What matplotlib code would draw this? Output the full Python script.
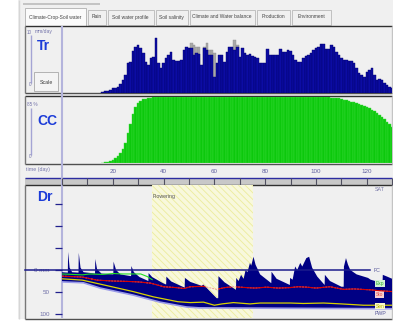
import numpy as np
import matplotlib.pyplot as plt
from matplotlib.patches import Rectangle

plt.rcParams['font.family'] = ['Liberation Sans', 'DejaVu Sans']
plt.rcParams['hatch.linewidth'] = 0.6

W, H = 393, 321

# ---- data ----
# transpiration Tr (mm/day), one bar per day
tr_days = list(range(16, 131))
tr_vals = [0.1, 0.2, 0.3, 0.4, 0.7, 0.75, 0.9, 1.4, 2.0, 2.8,
           4.7, 4.9, 6.6, 7.3, 7.6, 7.1, 6.3, 4.9, 4.4, 5.5,
           5.7, 8.7, 4.7, 3.9, 4.7, 5.5, 6.0, 6.5, 5.2, 5.0,
           5.0, 5.2, 6.8, 7.3, 7.1,
           7.1, 6.0, 6.3, 6.1, 4.4, 7.1, 6.8, 6.0, 6.0, 2.5,
           4.7, 6.0, 6.0, 4.9, 6.5, 7.3, 7.3, 6.8, 7.3, 5.7,
           7.1, 6.3, 6.0, 6.1, 5.8, 5.7, 5.5, 4.7, 4.7, 4.7,
           6.9, 6.0, 6.0, 6.0, 6.0, 6.9, 6.5, 6.5, 6.8, 6.6,
           6.0, 5.2, 4.9, 4.9, 5.5, 5.8, 6.0, 6.3, 6.8, 7.1,
           7.3, 7.7, 7.7, 6.9, 6.9, 7.6, 7.3, 6.5, 6.0, 5.5,
           5.2, 5.2, 5.0, 5.0, 4.7, 3.9, 3.1, 2.8, 2.5, 3.3,
           3.6, 3.9, 2.8, 2.0, 2.2, 2.0, 1.5, 1.2, 0.9, 0.7]
# potential Tr where it shows above the actual bar (grey)
pot_days = [51, 52, 53, 54, 56, 57, 58, 59, 60, 68, 69]
pot_vals = [7.9, 7.6, 7.3, 7.3, 7.3, 7.9, 6.8, 6.8, 6.3, 8.4, 7.6]

# canopy cover CC (%)
cc_days = list(range(16, 131))
cc_vals = [0.2, 0.6, 1.2, 2.2, 3.5, 5.5, 8.5, 12.5, 18, 26,
           38, 50, 63, 72, 77, 80, 82, 83, 83.6, 84,
           84.5, 84.5, 84.5, 84.5, 84.5, 84.5, 84.5, 84.5, 84.5, 84.5,
           84.5, 84.5, 84.5, 84.5, 84.5, 84.5, 84.5, 84.5, 84.5, 84.5,
           84.5, 84.5, 84.5, 84.5, 84.5, 84.5, 84.5, 84.5, 84.5, 84.5,
           84.5, 84.5, 84.5, 84.5, 84.5, 84.5, 84.5, 84.5, 84.5, 84.5,
           84.5, 84.5, 84.5, 84.5, 84.5, 84.5, 84.5, 84.5, 84.5, 84.5,
           84.5, 84.5, 84.5, 84.5, 84.5, 84.5, 84.5, 84.5, 84.5, 84.5,
           84.5, 84.5, 84.5, 84.5, 84.5, 84.5, 84.5, 84.5, 84.5, 84.5,
           84.3, 84.1, 83.8, 83.3, 82.6, 81.6, 80.5, 79.8, 79.1, 78.3,
           77.6, 76.5, 75.2, 73.9, 72.5, 70.6, 68.5, 66.4, 64.2, 61.5,
           58.8, 55.9, 53.0, 49.8, 46.5]

# root zone depletion Dr (mm below FC, negative = above FC)
dr_days = [0, 2.3, 2.4, 3.0, 4.0, 6.5, 6.6, 7.3, 8.5, 13.0, 13.1, 13.8, 15.5,
           20.2, 20.3, 21.3, 23.0, 27.2, 27.3, 28.3, 30.5, 34.0, 34.1, 35.5,
           39.8, 41.0, 41.1, 43.0, 47.5, 48.3, 48.4, 50.5, 54.0, 55.0, 55.6,
           56.5, 60.9, 61.5, 61.6, 64.0, 68.5, 68.6, 69.5, 70.5, 71.5, 72.3,
           73.0, 74.0, 74.5, 75.4, 76.2, 78.0, 82.4, 82.5, 84.5, 89.7, 89.8,
           90.8, 91.8, 92.6, 93.8, 94.6, 96.2, 97.3, 98.5, 100.5, 103.4, 103.5,
           105.5, 110.0, 110.9, 111.0, 111.8, 112.6, 113.5, 116.0, 120.5,
           121.5, 126.2, 126.3, 128.0, 130.0]
dr_vals = [5, 6, -41, -5, 5, 6, -39, -5, 5, 8, -25, -2, 8,
           10, -19, 0, 10, 14, -9, 5, 16, 25, 7, 16,
           30, 33, 15, 26, 38, 40, 18, 27, 34, 36, 33,
           38, 64, 64, 14, 28, 45, 18, 25, 11, 20, 0,
           5, -16, -10, -30, -12, 10, 30, 4, 20, 34, 18,
           22, -8, 0, -16, -8, -27, -30, -5, 15, 34, 11,
           25, 38, 38, -8, -27, -12, 0, 10, 18,
           22, 30, 11, 15, 20]
# lower limit of the root zone store (PWP)
pwp_days = [0, 8.4, 15, 28, 38.6, 49, 54, 90, 130]
pwp_vals = [27, 29, 41, 57, 73, 84, 86, 87, 88]
# thresholds
exp_days = [0, 4, 8, 11, 16, 20, 24, 28, 31, 33.6, 35.5]
exp_vals = [9, 10, 11, 9, 10, 8, 9, 9, 9, 15, 22]
sto_days = [0, 8, 13.8, 20, 26, 30, 35, 40, 45, 48, 50.5, 55.7, 60.9, 64,
            67.5, 72.7, 76, 80.6, 85, 89.8, 93, 96.4, 100, 105.5, 110.8,
            115, 121.3, 125, 130]
sto_vals = [14, 16, 23, 25, 26, 27, 30, 38, 40, 42, 38, 37, 44, 40,
            38, 40, 41, 39, 41, 40, 38, 39, 41, 38, 44,
            43, 45, 47, 49]
sen_days = [0, 8, 15, 28, 36, 45.6, 50.5, 55.7, 60, 63, 67.5, 74, 78, 82,
            90, 95, 103, 110, 118.7, 124, 130]
sen_vals = [20, 23, 32, 49, 61, 72, 74, 73, 80, 77, 74, 77, 75, 75,
            75, 76, 75, 77, 80, 80, 80]
fc_level = 0
flower_start, flower_end = 35.4, 75.2
time_ticks = list(range(0, 131, 10))
dr_ticks = [-150, -100, -50, 0, 50, 100]
dr_ticklabels = ['', '', '', '0 mm', '50', '100']
tabs = ['Climate-Crop-Soil water', 'Rain', 'Soil water profile', 'Soil salinity',
        'Climate and Water balance', 'Production', 'Environment']
tab_edges = [25, 87, 107, 155, 189, 256, 291, 332]

fig = plt.figure(figsize=(W / 100, H / 100), dpi=100)
fig.patch.set_facecolor('white')

bg = fig.add_axes([0, 0, 1, 1])
bg.set_xlim(0, W)
bg.set_ylim(H, 0)
bg.axis('off')


def px_axes(x0, y0, x1, y1):
    a = fig.add_axes([x0 / W, 1 - y1 / H, (x1 - x0) / W, (y1 - y0) / H])
    a.set_facecolor('none')
    for s in a.spines.values():
        s.set_visible(False)
    a.set_xlim(0, 130)
    a.set_xticks([])
    a.set_yticks([])
    return a


def hline(y, x0, x1, c, lw=1.0):
    bg.plot([x0, x1], [y, y], color=c, lw=lw, solid_capstyle='butt')


def vline(x, y0, y1, c, lw=1.0):
    bg.plot([x, x], [y0, y1], color=c, lw=lw, solid_capstyle='butt')


# window chrome
bg.add_patch(Rectangle((18, 0), W - 18, 319, fc='#f0f0f0', ec='none'))
vline(18.5, 0, 319, '#d6d6d6')
bg.add_patch(Rectangle((23, 3), 77, 2, fc='#c4c4c4', ec='none'))
for i, name in enumerate(tabs):
    x0, x1 = tab_edges[i], tab_edges[i + 1] - 1
    if i == 0:
        bg.add_patch(Rectangle((x0, 8), x1 - x0, 18, fc='#fbfbfb', ec='#b0b0b0', lw=0.6))
    else:
        bg.add_patch(Rectangle((x0 + 1, 10), x1 - x0 - 1, 15, fc='#f0f0f0', ec='#b8b8b8', lw=0.6))
    bg.text((x0 + x1) / 2, 17, name, fontsize=3.5, color='#444444', ha='center', va='center')

# panel frames
for y0, y1 in [(26, 93), (96, 164), (185, 318.5)]:
    bg.add_patch(Rectangle((25, y0), 367, y1 - y0, fc='#f0f0f0', ec='none'))
    hline(y0, 25, 392, '#303030')
    hline(y1, 25, 392, '#505050')
    vline(25, y0, y1, '#777777')
    vline(391.5, y0, y1, '#c4c4c4')
# time ruler
bg.add_patch(Rectangle((25, 178), 367, 7, fc='#c8c8c8', ec='none'))
hline(178, 25, 392, '#2c2ca0', 1.0)
# divider between label column and plots
vline(62, 26, 318, '#b4b4dc', 1.5)

lab_c = '#7474aa'
big = dict(fontsize=10, fontweight='bold', color='#1c3cd8',
           family=['Liberation Sans Narrow', 'Liberation Sans'], va='center')
# Tr label column
bg.text(27, 32, '10', fontsize=3.3, color=lab_c, va='center')
bg.text(35, 32, 'mm/day', fontsize=3.6, color=lab_c, va='center')
vline(30.5, 35, 83, '#a4a4d4', 1.0)
bg.text(28.5, 85, '0', fontsize=3.3, color=lab_c, va='center')
bg.text(37, 46, 'Tr', **big)
bg.add_patch(Rectangle((34, 72), 24, 19, fc='#f4f4f4', ec='#a8a8a8', lw=0.6))
bg.text(46, 82, 'Scale', fontsize=3.8, color='#404040', ha='center', va='center')
# CC label column
bg.text(27, 104, '85 %', fontsize=3.3, color=lab_c, va='center')
vline(30.5, 108, 155, '#a4a4d4', 1.0)
bg.text(28.5, 157, '0', fontsize=3.3, color=lab_c, va='center')
bg.text(37, 121, 'CC', **big)
# time row
bg.text(26, 170, 'time (day)', fontsize=3.8, color=lab_c, va='center')
# Dr label column
bg.text(37, 197, 'Dr', **big)

# ---- Tr panel ----
ax_tr = px_axes(62, 27, 392.2, 92.7)
ax_tr.set_ylim(0, 10.43)
ax_tr.bar(pot_days, pot_vals, width=1.0, color='#a8a8a8', edgecolor='#909090', lw=0.3)
ax_tr.bar(tr_days, tr_vals, width=1.0, color='#0c0ca4', edgecolor='#00006a', lw=0.3)

# ---- CC panel ----
ax_cc = px_axes(62, 97, 392.2, 162.7)
ax_cc.set_ylim(0, 85)
ax_cc.bar(cc_days, cc_vals, width=1.0, color='#0cc80c', edgecolor='#3cdc3c', lw=0.3)

# ---- time ruler ----
ax_ru = px_axes(62, 178, 392.2, 185)
ax_ru.set_xticks(time_ticks, [str(d) if d % 20 == 0 and d > 0 else '' for d in time_ticks])
ax_ru.tick_params(axis='x', direction='in', length=5, width=0.8, color='#505060',
                  top=True, bottom=False, labeltop=True, labelbottom=False,
                  labelsize=4.5, labelcolor='#6060a0', pad=3)

# ---- Dr panel ----
ax_dr = px_axes(62, 185, 392.2, 318)
ax_dr.set_ylim(109, -193)
ax_dr.axvspan(flower_start, flower_end, facecolor='#f8f8dc', edgecolor='#ecec9c',
              hatch='\\' * 5, lw=0, zorder=0)
ax_dr.text(flower_start + 0.3, -166, 'Flowering', fontsize=3.8, color='#555555', va='center')
poly = ax_dr.fill(list(dr_days) + pwp_days[::-1], list(dr_vals) + pwp_vals[::-1],
                  color='#000084', lw=0, zorder=2)[0]
ax_dr.plot(pwp_days, pwp_vals, color='#9a9ae8', lw=1.2, zorder=2.5)
ax_dr.plot(exp_days, exp_vals, color='#22e022', lw=0.8, zorder=3)
ax_dr.plot(sto_days, sto_vals, color='#f29a9a', lw=0.7, ls=(0, (2, 1)), zorder=3)
red, = ax_dr.plot(sto_days, sto_vals, color='#d80000', lw=0.8, zorder=3.1)
red.set_clip_path(poly)
ax_dr.plot(sen_days, sen_vals, color='#d8d200', lw=0.9, zorder=3)
ax_dr.axhline(fc_level, xmin=(25 - 62) / 330.2, xmax=(370 - 62) / 330.2, clip_on=False,
              color='#1c1c8c', lw=1.1, zorder=4)
ax_dr.set_yticks(dr_ticks, dr_ticklabels)
ax_dr.tick_params(axis='y', direction='out', length=5, width=0.9, color='#20208c',
                  labelsize=4.5, labelcolor='#7070a8', pad=4)
for t in ax_dr.get_yticklabels():
    t.set_bbox(dict(fc='#f0f0f0', ec='none', pad=0.5))

# right-hand labels
rx = 122.6
ax_dr.text(rx + 0.5, -182, 'SAT', fontsize=3.8, color='#7a7aaa', va='center')
ax_dr.text(rx, fc_level + 2, 'FC', fontsize=3.8, color='#5a5a9a', va='center')
ax_dr.text(rx + 0.8, 30, 'Exp', fontsize=3.5, color='#30b030', va='center',
           bbox=dict(fc='#d4f4d4', ec='none', pad=0.6))
ax_dr.text(rx + 0.8, 55, 'Sto', fontsize=3.5, color='#e04848', va='center',
           bbox=dict(fc='#f8d0d0', ec='none', pad=0.6))
ax_dr.text(rx + 0.8, 82, 'Sen', fontsize=3.5, color='#b8b800', va='center',
           bbox=dict(fc='#f8f8c8', ec='none', pad=0.6))
ax_dr.text(rx + 0.5, 98, 'PWP', fontsize=3.8, color='#5a5a9a', va='center',
           bbox=dict(fc='#f0f0f0', ec='none', pad=0.3))

fig.savefig('out.png', dpi=100, facecolor=fig.get_facecolor())
